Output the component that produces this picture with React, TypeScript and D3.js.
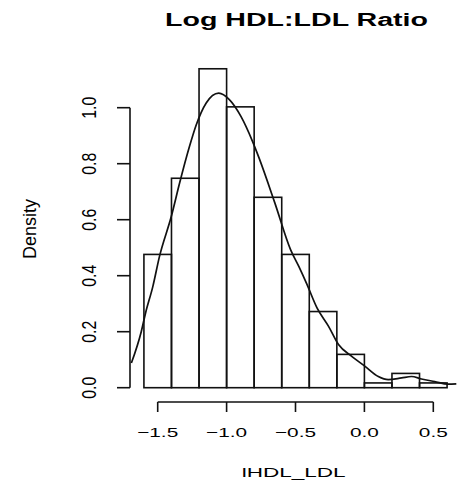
import React from "react";
import * as d3 from "d3";

const binEdges = [-1.6, -1.4, -1.2, -1.0, -0.8, -0.6, -0.4, -0.2, 0.0, 0.2, 0.4, 0.6];
const binDensity = [0.476, 0.748, 1.139, 1.003, 0.68, 0.476, 0.272, 0.119, 0.017, 0.051, 0.017];
const curveX = [-1.691, -1.619, -1.588, -1.535, -1.487, -1.401, -1.341, -1.269, -1.22, -1.148, -1.057, -0.98, -0.896, -0.812, -0.764, -0.65, -0.536, -0.476, -0.416, -0.344, -0.26, -0.188, -0.092, 0.005, 0.101, 0.173, 0.27, 0.342, 0.414, 0.51, 0.607, 0.667];
const curveY = [0.088, 0.201, 0.267, 0.362, 0.469, 0.612, 0.731, 0.862, 0.939, 1.017, 1.052, 1.029, 0.969, 0.88, 0.82, 0.66, 0.493, 0.433, 0.368, 0.285, 0.219, 0.154, 0.112, 0.076, 0.04, 0.029, 0.035, 0.04, 0.031, 0.022, 0.013, 0.014];
const xTicks = [-1.5, -1.0, -0.5, 0.0, 0.5];
const yTicks = [0.0, 0.2, 0.4, 0.6, 0.8, 1.0];
const title = "Log HDL:LDL Ratio";
const xLabel = "lHDL_LDL";
const yLabel = "Density";

const FONT = "'Liberation Sans', Arial, sans-serif";
const fmt = (v: number) => {
  const s = v.toFixed(1);
  return s.startsWith("-") ? "\u2212" + s.slice(1) : s;
};

export default function App() {
  const x = d3.scaleLinear().domain([-1.5, 0.5]).range([157.7, 433.3]);
  const y = d3.scaleLinear().domain([0, 1]).range([387.7, 107.7]);
  const pts: [number, number][] = curveX.map((v, i) => [v, curveY[i]]);
  const line = d3
    .line<[number, number]>()
    .x((d) => x(d[0]))
    .y((d) => y(d[1]))
    .curve(d3.curveMonotoneX);
  const stroke = "#111";
  const axisY = 402;
  const axisX = 130;
  return (
    <svg width={458} height={484} style={{ position: "absolute", left: 0, top: 0, background: "#fff" }}>
      <rect x={0} y={0} width={458} height={484} fill="#fff" />
      <text x={165} y={25.7} fontFamily={FONT} fontWeight="bold" fontSize={18.7} textLength={263} lengthAdjust="spacingAndGlyphs" fill="#000">
        {title}
      </text>
      {binDensity.map((d, i) => (
        <rect
          key={i}
          x={x(binEdges[i])}
          y={y(d)}
          width={x(binEdges[i + 1]) - x(binEdges[i])}
          height={y(0) - y(d)}
          fill="none"
          stroke={stroke}
          strokeWidth={1.6}
        />
      ))}
      <path d={line(pts) || ""} fill="none" stroke={stroke} strokeWidth={1.7} />
      <line x1={x(xTicks[0])} x2={x(xTicks[xTicks.length - 1])} y1={axisY} y2={axisY} stroke={stroke} strokeWidth={1.6} />
      {xTicks.map((t) => (
        <g key={t}>
          <line x1={x(t)} x2={x(t)} y1={axisY} y2={axisY + 10} stroke={stroke} strokeWidth={1.6} />
          <text
            transform={`translate(${x(t)},436.5) scale(1.6,1)`}
            textAnchor="middle"
            fontFamily={FONT}
            fontSize={13}
            fill="#000"
          >
            {fmt(t)}
          </text>
        </g>
      ))}
      <line x1={axisX} x2={axisX} y1={y(0)} y2={y(1)} stroke={stroke} strokeWidth={1.6} />
      {yTicks.map((t) => (
        <g key={t}>
          <line x1={axisX - 13} x2={axisX} y1={y(t)} y2={y(t)} stroke={stroke} strokeWidth={1.6} />
          <text
            transform={`translate(96,${y(t)}) scale(1.6,1.22) rotate(-90)`}
            textAnchor="middle"
            fontFamily={FONT}
            fontSize={13}
            fill="#000"
          >
            {fmt(t)}
          </text>
        </g>
      ))}
      <text x={241.7} y={476.5} fontFamily={FONT} fontSize={13} textLength={104} lengthAdjust="spacingAndGlyphs" fill="#000">
        {xLabel}
      </text>
      <text
        transform={`translate(36,229) scale(1.4,1.38) rotate(-90)`}
        textAnchor="middle"
        fontFamily={FONT}
        fontSize={13}
        fill="#000"
      >
        {yLabel}
      </text>
    </svg>
  );
}
